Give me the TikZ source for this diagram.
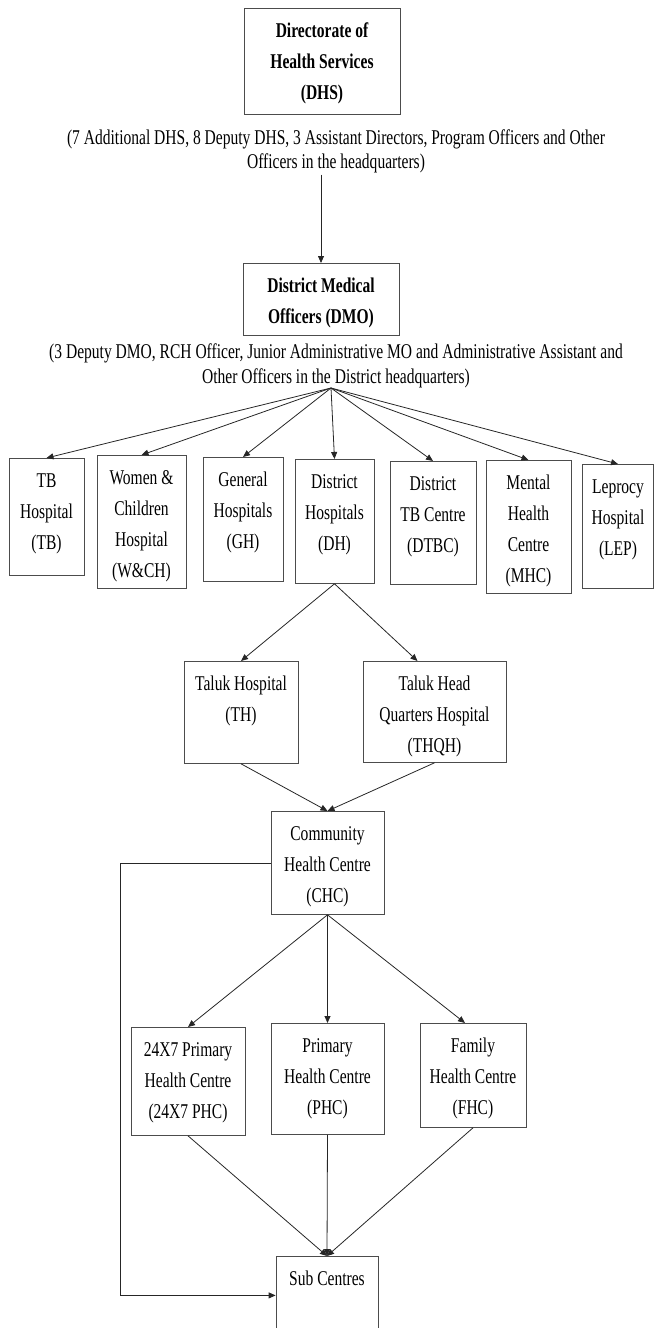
\documentclass[tikz,border=0pt]{standalone}
\usepackage{fontspec}
\setmainfont{Liberation Serif}[FakeStretch=0.74]
\usetikzlibrary{arrows.meta}

\begin{document}
\begin{tikzpicture}[
    x=1pt, y=-1pt,
    unit/.style 2 args={
        draw=black!70,
        line width=0.8pt,
        anchor=north,
        align=flush center,
        inner sep=0pt,
        text width=#1,
        text height=29pt,
        text depth=#2,
        font=\fontsize{21pt}{31pt}\selectfont,
    },
    head/.style 2 args={
        unit={#1}{#2},
        font=\fontsize{21pt}{31pt}\selectfont\bfseries,
    },
    staff/.style={
        align=center,
        inner sep=1pt,
        font=\fontsize{21pt}{24.5pt}\selectfont,
    },
    link/.style={
        draw=black!85,
        line width=0.8pt,
        -{Triangle[length=7pt,width=6pt]},
    },
]
    \useasboundingbox (0,0) rectangle (654,1328);

    \node[head={156pt}{77pt}] (dhs) at (322,8) {Directorate of\\Health Services\\(DHS)};
    \node[staff] (dhsstaff) at (336,151.5) {(7 Additional DHS, 8 Deputy DHS, 3 Assistant Directors, Program Officers and Other\\Officers in the headquarters)};
    \node[head={156pt}{43pt}] (dmo) at (321,263) {District Medical\\Officers (DMO)};
    \node[staff] (dmostaff) at (336,366) {(3 Deputy DMO, RCH Officer, Junior Administrative MO and Administrative Assistant and\\Other Officers in the District headquarters)};
    \coordinate (fan) at (331,388);

    \node[unit={75pt}{88pt}]  (tb)   at (46.5,458)  {TB\\Hospital\\(TB)};
    \node[unit={89pt}{104pt}] (wch)  at (141.5,455) {Women \&\\Children\\Hospital\\(W\&CH)};
    \node[unit={80pt}{95pt}]  (gh)   at (243,457)   {General\\Hospitals\\(GH)};
    \node[unit={79pt}{95pt}]  (dh)   at (334.5,459) {District\\Hospitals\\(DH)};
    \node[unit={86pt}{94pt}]  (dtbc) at (433,461)   {District\\TB Centre\\(DTBC)};
    \node[unit={85pt}{104pt}] (mhc)  at (528.5,460) {Mental\\Health\\Centre\\(MHC)};
    \node[unit={71pt}{95pt}]  (lep)  at (618,464)   {Leprocy\\Hospital\\(LEP)};

    \node[unit={114pt}{73pt}] (th)   at (241,661)   {Taluk Hospital\\(TH)};
    \node[unit={143pt}{72pt}] (thqh) at (434.5,661) {Taluk Head\\Quarters Hospital\\(THQH)};
    \node[unit={113pt}{74pt}] (chc)  at (327.5,811) {Community\\Health Centre\\(CHC)};

    \node[unit={114pt}{79pt}] (phc24) at (188,1027)  {24X7 Primary\\Health Centre\\(24X7 PHC)};
    \node[unit={113pt}{82pt}] (phc)   at (327.5,1023) {Primary\\Health Centre\\(PHC)};
    \node[unit={106pt}{75pt}] (fhc)   at (473,1023)  {Family\\Health Centre\\(FHC)};
    \node[unit={102pt}{49pt}] (sub)   at (327,1256)  {Sub Centres};

    \draw[link] (dhsstaff.south -| dmo.north) -- (dmo.north);

    \draw[link] (fan) -- (tb.north);
    \draw[link] (fan) -- (wch.north);
    \draw[link] (fan) -- (gh.north);
    \draw[link] (fan) -- (dh.north);
    \draw[link] (fan) -- (dtbc.north);
    \draw[link] (fan) -- (mhc.north);
    \draw[link] (fan) -- (lep.north);

    \draw[link] (dh.south) -- (th.north);
    \draw[link] (dh.south) -- ([xshift=-17pt]thqh.north);
    \draw[link] (th.south) -- (chc.north);
    \draw[link] (thqh.south) -- (chc.north);

    \draw[link] (chc.south) -- (phc24.north);
    \draw[link] (chc.south) -- (phc.north);
    \draw[link] (chc.south) -- ([xshift=-8pt]fhc.north);
    \draw[link] (chc.west) -- ++(-150,0) |- (sub.west);

    \draw[link] (phc24.south) -- (sub.north);
    \draw[link] (phc.south) -- (sub.north);
    \draw[link] (fhc.south) -- (sub.north);

\end{tikzpicture}
\end{document}
